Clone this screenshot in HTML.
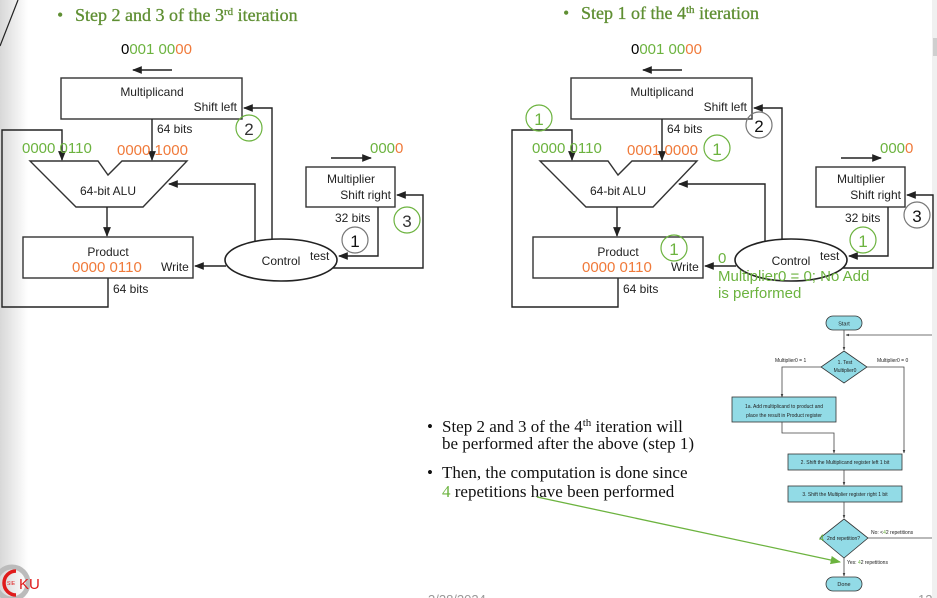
<!DOCTYPE html>
<html><head><meta charset="utf-8"><style>
html,body{margin:0;padding:0;background:#fff;}
svg{display:block;}
.s{font-family:"Liberation Sans",sans-serif;}
.r{font-family:"Liberation Serif",serif;}
</style></head><body>
<svg width="937" height="598" viewBox="0 0 937 598" xmlns="http://www.w3.org/2000/svg">
<defs>
<linearGradient id="lg" x1="0" x2="1"><stop offset="0" stop-color="#d8d8d8"/><stop offset="1" stop-color="#fff"/></linearGradient>
<marker id="a" viewBox="0 0 10 10" refX="9" refY="5" markerWidth="7" markerHeight="7" orient="auto-start-reverse"><path d="M0,1 L10,5 L0,9 z" fill="#222"/></marker>
<marker id="b" viewBox="0 0 10 10" refX="9" refY="5" markerWidth="4" markerHeight="4" orient="auto"><path d="M0,1 L10,5 L0,9 z" fill="#333"/></marker>
<marker id="g" viewBox="0 0 10 10" refX="9" refY="5" markerWidth="8" markerHeight="8" orient="auto"><path d="M0,1 L10,5 L0,9 z" fill="#6cb33f"/></marker>
</defs>
<rect x="0" y="0" width="28" height="598" fill="url(#lg)"/>
<rect x="932" y="0" width="5" height="598" fill="#f0f0f0"/>
<rect x="933" y="38" width="4" height="18" fill="#cfcfcf"/>
<line x1="0" y1="46" x2="18" y2="0" stroke="#222" stroke-width="1.2"/>

<text x="57" y="21" class="r" font-size="18" fill="#5f8f33">•</text>
<text x="75" y="21" class="r" font-size="18" fill="#5f8f33" stroke="#5f8f33" stroke-width="0.3">Step 2 and 3 of the 3<tspan font-size="11" dy="-6">rd</tspan><tspan dy="6"> iteration</tspan></text>
<text x="563" y="19" class="r" font-size="18" fill="#5f8f33">•</text>
<text x="581" y="19" class="r" font-size="18" fill="#5f8f33" stroke="#5f8f33" stroke-width="0.3">Step 1 of the 4<tspan font-size="11" dy="-6">th</tspan><tspan dy="6"> iteration</tspan></text>

<g class="s" stroke-width="1.4">
<text x="121" y="54" font-size="15"><tspan fill="#000">0</tspan><tspan fill="#6cb33f">001 </tspan><tspan fill="#6cb33f">00</tspan><tspan fill="#f07a3a">00</tspan></text>
<line x1="172" y1="70" x2="133" y2="70" stroke="#222" marker-end="url(#a)"/>
<rect x="61" y="78" width="181" height="41" fill="#fff" stroke="#333"/>
<text x="152" y="96" font-size="12" text-anchor="middle" fill="#222">Multiplicand</text>
<text x="237" y="111" font-size="12" text-anchor="end" fill="#222">Shift left</text>
<circle cx="249" cy="128" r="13" fill="none" stroke="#6cb33f" stroke-width="1.2"/>
<text x="249" y="135" font-size="17" text-anchor="middle" fill="#333">2</text>
<line x1="152" y1="119" x2="152" y2="160" stroke="#222" marker-end="url(#a)"/>
<text x="157" y="133" font-size="12" fill="#222">64 bits</text>
<polyline points="108,278 108,307 2,307 2,130 62,130 62,160" fill="none" stroke="#222" marker-end="url(#a)"/>
<text x="22" y="153" font-size="15" fill="#6cb33f">0000 0110</text>
<text x="117" y="155" font-size="15" fill="#f07a3a">0000 1000</text>
<polygon points="30,161 98,161 108,175 122,161 187,161 143,207 76,207" fill="#fff" stroke="#333"/>
<text x="108" y="195" font-size="12" text-anchor="middle" fill="#222">64-bit ALU</text>
<line x1="107" y1="207" x2="107" y2="236" stroke="#222" marker-end="url(#a)"/>
<rect x="23" y="237" width="170" height="41" fill="#fff" stroke="#333"/>
<text x="108" y="256" font-size="12" text-anchor="middle" fill="#222">Product</text>
<text x="72" y="272" font-size="15" fill="#f07a3a">0000 0110</text>
<text x="161" y="271" font-size="12" fill="#222">Write</text>
<text x="113" y="293" font-size="12" fill="#222">64 bits</text>
<polyline points="255,242 255,184 169,184" fill="none" stroke="#222" marker-end="url(#a)"/>
<polyline points="272,240 272,108 244,108" fill="none" stroke="#222" marker-end="url(#a)"/>
<line x1="226" y1="266" x2="195" y2="266" stroke="#222" marker-end="url(#a)"/>
<ellipse cx="281" cy="260" rx="56" ry="21" fill="#fff" stroke="#222" stroke-width="1.6"/>
<text x="281" y="265" font-size="12" text-anchor="middle" fill="#222">Control</text>
<text x="310" y="260" font-size="12" fill="#222">test</text>
<text x="370" y="153" font-size="15"><tspan fill="#6cb33f">000</tspan><tspan fill="#f07a3a">0</tspan></text>
<line x1="331" y1="158" x2="371" y2="158" stroke="#222" marker-end="url(#a)"/>
<rect x="306" y="167" width="89" height="40" fill="#fff" stroke="#333"/>
<text x="351" y="183" font-size="12" text-anchor="middle" fill="#222">Multiplier</text>
<text x="391" y="199" font-size="12" text-anchor="end" fill="#222">Shift right</text>
<text x="335" y="222" font-size="12" fill="#222">32 bits</text>
<polyline points="378,207 378,256 339,256" fill="none" stroke="#222" marker-end="url(#a)"/>
<polyline points="333,268 423,268 423,195 397,195" fill="none" stroke="#222" marker-end="url(#a)"/>
<circle cx="355" cy="240" r="13" fill="none" stroke="#777" stroke-width="1.2"/>
<text x="355" y="247" font-size="17" text-anchor="middle" fill="#111">1</text>
<circle cx="407" cy="220" r="13" fill="none" stroke="#6cb33f" stroke-width="1.2"/>
<text x="407" y="227" font-size="17" text-anchor="middle" fill="#333">3</text>
</g>

<g class="s" stroke-width="1.4" transform="translate(510,0)">
<text x="121" y="54" font-size="15"><tspan fill="#000">0</tspan><tspan fill="#6cb33f">001 </tspan><tspan fill="#6cb33f">00</tspan><tspan fill="#f07a3a">00</tspan></text>
<line x1="172" y1="70" x2="133" y2="70" stroke="#222" marker-end="url(#a)"/>
<rect x="61" y="78" width="181" height="41" fill="#fff" stroke="#333"/>
<text x="152" y="96" font-size="12" text-anchor="middle" fill="#222">Multiplicand</text>
<text x="237" y="111" font-size="12" text-anchor="end" fill="#222">Shift left</text>
<circle cx="249" cy="125" r="13" fill="none" stroke="#777" stroke-width="1.2"/>
<text x="249" y="132" font-size="17" text-anchor="middle" fill="#111">2</text>
<line x1="152" y1="119" x2="152" y2="160" stroke="#222" marker-end="url(#a)"/>
<text x="157" y="133" font-size="12" fill="#222">64 bits</text>
<polyline points="108,278 108,307 2,307 2,130 62,130 62,160" fill="none" stroke="#222" marker-end="url(#a)"/>
<circle cx="29" cy="118" r="13" fill="none" stroke="#6cb33f" stroke-width="1.2"/>
<text x="29" y="125" font-size="17" text-anchor="middle" fill="#6cb33f">1</text>
<text x="22" y="153" font-size="15" fill="#6cb33f">0000 0110</text>
<text x="117" y="155" font-size="15" fill="#f07a3a">0001 0000</text>
<circle cx="207" cy="148" r="13" fill="none" stroke="#6cb33f" stroke-width="1.2"/>
<text x="207" y="155" font-size="17" text-anchor="middle" fill="#6cb33f">1</text>
<polygon points="30,161 98,161 108,175 122,161 187,161 143,207 76,207" fill="#fff" stroke="#333"/>
<text x="108" y="195" font-size="12" text-anchor="middle" fill="#222">64-bit ALU</text>
<line x1="107" y1="207" x2="107" y2="236" stroke="#222" marker-end="url(#a)"/>
<rect x="23" y="237" width="170" height="41" fill="#fff" stroke="#333"/>
<text x="108" y="256" font-size="12" text-anchor="middle" fill="#222">Product</text>
<circle cx="164" cy="248" r="13" fill="none" stroke="#6cb33f" stroke-width="1.2"/>
<text x="164" y="255" font-size="17" text-anchor="middle" fill="#6cb33f">1</text>
<text x="72" y="272" font-size="15" fill="#f07a3a">0000 0110</text>
<text x="161" y="271" font-size="12" fill="#222">Write</text>
<text x="113" y="293" font-size="12" fill="#222">64 bits</text>
<polyline points="255,242 255,184 169,184" fill="none" stroke="#222" marker-end="url(#a)"/>
<polyline points="272,240 272,108 244,108" fill="none" stroke="#222" marker-end="url(#a)"/>
<line x1="226" y1="266" x2="195" y2="266" stroke="#222" marker-end="url(#a)"/>
<ellipse cx="281" cy="260" rx="56" ry="21" fill="#fff" stroke="#222" stroke-width="1.6"/>
<text x="281" y="265" font-size="12" text-anchor="middle" fill="#222">Control</text>
<text x="310" y="260" font-size="12" fill="#222">test</text>
<text x="208" y="263" font-size="15" fill="#6cb33f">0</text>
<text x="208" y="281" font-size="15" fill="#6cb33f">Multiplier0 = 0; No Add</text>
<text x="208" y="298" font-size="15" fill="#6cb33f">is performed</text>
<text x="370" y="153" font-size="15"><tspan fill="#6cb33f">000</tspan><tspan fill="#f07a3a">0</tspan></text>
<line x1="331" y1="158" x2="371" y2="158" stroke="#222" marker-end="url(#a)"/>
<rect x="306" y="167" width="89" height="40" fill="#fff" stroke="#333"/>
<text x="351" y="183" font-size="12" text-anchor="middle" fill="#222">Multiplier</text>
<text x="391" y="199" font-size="12" text-anchor="end" fill="#222">Shift right</text>
<text x="335" y="222" font-size="12" fill="#222">32 bits</text>
<polyline points="378,207 378,256 339,256" fill="none" stroke="#222" marker-end="url(#a)"/>
<polyline points="333,268 423,268 423,195 397,195" fill="none" stroke="#222" marker-end="url(#a)"/>
<circle cx="353" cy="240" r="13" fill="none" stroke="#6cb33f" stroke-width="1.2"/>
<text x="353" y="247" font-size="17" text-anchor="middle" fill="#6cb33f">1</text>
<circle cx="407" cy="215" r="13" fill="none" stroke="#777" stroke-width="1.2"/>
<text x="407" y="222" font-size="17" text-anchor="middle" fill="#111">3</text>
</g>

<g class="r" font-size="17" fill="#111">
<text x="427" y="432">•</text>
<text x="442" y="432">Step 2 and 3 of the 4<tspan font-size="11" dy="-6">th</tspan><tspan dy="6"> iteration will</tspan></text>
<text x="442" y="449">be performed after the above (step 1)</text>
<text x="427" y="478">•</text>
<text x="442" y="478">Then, the computation is done since</text>
<text x="442" y="497"><tspan fill="#6cb33f">4</tspan> repetitions have been performed</text>
</g>

<g class="s" font-size="5.5" fill="#222">
<line x1="932" y1="335" x2="846" y2="335" stroke="#444" stroke-width="0.8" marker-end="url(#b)"/>
<rect x="826" y="316" width="36" height="14" rx="7" fill="#92dbe6" stroke="#333" stroke-width="0.8"/>
<text x="844" y="325.5" text-anchor="middle">Start</text>
<line x1="844" y1="330" x2="844" y2="350" stroke="#444" stroke-width="0.8" marker-end="url(#b)"/>
<polygon points="844,351 867,367 844,383 821,367" fill="#92dbe6" stroke="#333" stroke-width="0.8"/>
<text x="845" y="364" text-anchor="middle" font-size="5">1. Test</text>
<text x="845" y="372" text-anchor="middle" font-size="5">Multiplier0</text>
<polyline points="821,367 782,367 782,397" fill="none" stroke="#444" stroke-width="0.8" marker-end="url(#b)"/>
<text x="775" y="362" font-size="5">Multiplier0 = 1</text>
<polyline points="867,367 904,367 904,453" fill="none" stroke="#444" stroke-width="0.8" marker-end="url(#b)"/>
<text x="877" y="362" font-size="5">Multiplier0 = 0</text>
<rect x="732" y="397" width="104" height="25" fill="#92dbe6" stroke="#333" stroke-width="0.8"/>
<text x="784" y="408" text-anchor="middle" font-size="5">1a.  Add multiplicand to product and</text>
<text x="784" y="417" text-anchor="middle" font-size="5">place the result in Product register</text>
<polyline points="782,422 782,433 834,433 834,453" fill="none" stroke="#444" stroke-width="0.8" marker-end="url(#b)"/>
<rect x="788" y="454" width="114" height="16" fill="#92dbe6" stroke="#333" stroke-width="0.8"/>
<text x="845" y="464" text-anchor="middle" font-size="5">2.  Shift the Multiplicand register left 1 bit</text>
<line x1="844" y1="470" x2="844" y2="485" stroke="#444" stroke-width="0.8" marker-end="url(#b)"/>
<rect x="788" y="486" width="114" height="16" fill="#92dbe6" stroke="#333" stroke-width="0.8"/>
<text x="845" y="496" text-anchor="middle" font-size="5">3.  Shift the Multiplier register right 1 bit</text>
<line x1="844" y1="502" x2="844" y2="518" stroke="#444" stroke-width="0.8" marker-end="url(#b)"/>
<polygon points="844,519 868,538 844,558 820,538" fill="#92dbe6" stroke="#333" stroke-width="0.8"/>
<text x="819" y="541" font-size="9" fill="#6cb33f">4</text>
<text x="827" y="540" font-size="5">2nd repetition?</text>
<line x1="868" y1="538" x2="932" y2="538" stroke="#444" stroke-width="0.8"/>
<text x="871" y="534" font-size="5">No: &lt;<tspan fill="#6cb33f">4</tspan>2 repetitions</text>
<line x1="844" y1="558" x2="844" y2="576" stroke="#444" stroke-width="0.8" marker-end="url(#b)"/>
<text x="847" y="564" font-size="5">Yes: <tspan fill="#6cb33f">4</tspan>2 repetitions</text>
<rect x="826" y="577" width="36" height="14" rx="7" fill="#92dbe6" stroke="#333" stroke-width="0.8"/>
<text x="844" y="586" text-anchor="middle">Done</text>
</g>
<line x1="537" y1="497" x2="840" y2="562" stroke="#6cb33f" stroke-width="1.3" marker-end="url(#g)"/>

<circle cx="12" cy="583" r="16" fill="none" stroke="#bbb" stroke-width="5"/>
<path d="M16,571 A12,12 0 1 0 16,595" fill="none" stroke="#e01b1b" stroke-width="3.5"/>
<text x="7" y="585" font-family="Liberation Sans,sans-serif" font-size="5" fill="#e01b1b">SIE</text>
<text x="19" y="589" font-family="Liberation Sans,sans-serif" font-size="15" fill="#e01b1b">KU</text>
<text x="428" y="604" font-family="Liberation Sans,sans-serif" font-size="13" fill="#999">3/28/2024</text>
<text x="918" y="604" font-family="Liberation Sans,sans-serif" font-size="13" fill="#999">12</text>
</svg>
</body></html>
